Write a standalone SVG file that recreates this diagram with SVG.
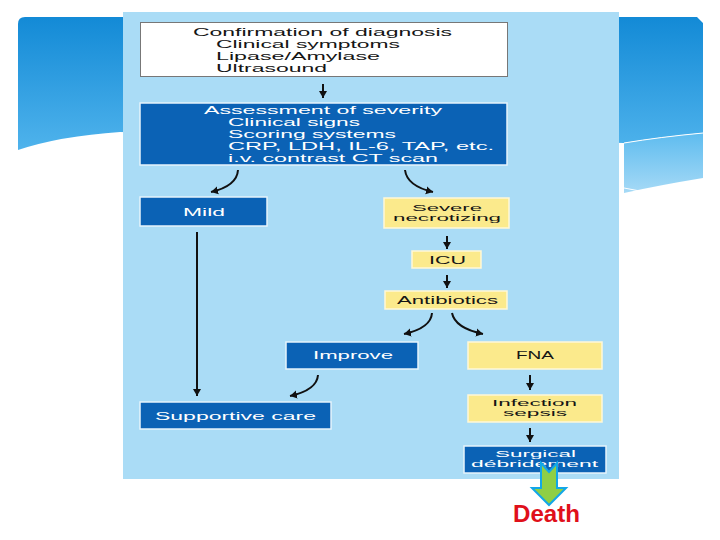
<svg xmlns="http://www.w3.org/2000/svg" width="720" height="540" viewBox="0 0 720 540">
<defs>
<linearGradient id="sky" x1="0" y1="0" x2="0" y2="1">
<stop offset="0" stop-color="#138ad6"/>
<stop offset="1" stop-color="#4fb3ec"/>
</linearGradient>
<linearGradient id="sky2" x1="0" y1="0" x2="0" y2="1">
<stop offset="0" stop-color="#5ebcef"/>
<stop offset="1" stop-color="#a6daf6"/>
</linearGradient>
<marker id="ah" markerUnits="userSpaceOnUse" markerWidth="10" markerHeight="10" refX="7" refY="4.5" orient="auto">
<path d="M0,0.5 L7,4.5 L0,8.5 z" fill="#111"/>
</marker>
<style>
.blue{fill:#0b62b5;stroke:#e6f3fc;stroke-width:1.5}
.yel{fill:#fbea8c;stroke:#fff8d8;stroke-width:1.5}
.wht{fill:#ffffff;stroke:#777;stroke-width:1}
text{font-family:"Liberation Sans",Arial,sans-serif;font-size:10.5px}
.tw{fill:#ffffff}
.tk{fill:#151515}
.big{font-size:11px}
.sm{font-size:9.5px}
.con{fill:none;stroke:#111;stroke-width:2;marker-end:url(#ah)}
</style>
</defs>
<rect width="720" height="540" fill="#ffffff"/>
<g id="background">
<path d="M18,24 Q18,17 25,17 H697 L703,23 V133 Q660,137 624,143 L120,132 Q60,136 18,150 Z" fill="url(#sky)"/>
<path d="M624,143 Q660,137 703,133 V178 Q660,185 624,193 Z" fill="url(#sky2)"/>
<path d="M624,143 Q660,137 703,133" fill="none" stroke="#ffffff" stroke-width="1"/>
<path d="M624,188 Q636,190 648,193" fill="none" stroke="#ffffff" stroke-width="1"/>
<rect x="123" y="12" width="496" height="467" fill="#aadcf6"/>
</g>
<g id="n-confirm">
<rect class="wht" x="140.5" y="22.5" width="367" height="54"/>
<text class="tk big" x="193" y="36" textLength="259" lengthAdjust="spacingAndGlyphs">Confirmation of diagnosis</text>
<text class="tk big" x="216" y="48" textLength="184" lengthAdjust="spacingAndGlyphs">Clinical symptoms</text>
<text class="tk big" x="216" y="60" textLength="164" lengthAdjust="spacingAndGlyphs">Lipase/Amylase</text>
<text class="tk big" x="216" y="72" textLength="111" lengthAdjust="spacingAndGlyphs">Ultrasound</text>
</g>
<g id="n-assess">
<rect class="blue" x="140" y="103" width="367" height="62"/>
<text class="tw big" x="204" y="114" textLength="238" lengthAdjust="spacingAndGlyphs">Assessment of severity</text>
<text class="tw big" x="228" y="126" textLength="132" lengthAdjust="spacingAndGlyphs">Clinical signs</text>
<text class="tw big" x="228" y="138" textLength="168" lengthAdjust="spacingAndGlyphs">Scoring systems</text>
<text class="tw big" x="228" y="150" textLength="266" lengthAdjust="spacingAndGlyphs">CRP, LDH, IL-6, TAP, etc.</text>
<text class="tw big" x="228" y="162" textLength="210" lengthAdjust="spacingAndGlyphs">i.v. contrast CT scan</text>
</g>
<g id="n-mild">
<rect class="blue" x="140" y="197" width="127" height="29"/>
<text class="tw" x="183" y="215.5" textLength="42" lengthAdjust="spacingAndGlyphs">Mild</text>
</g>
<g id="n-severe">
<rect class="yel" x="384" y="198" width="125" height="30"/>
<text class="tk sm" x="412" y="210.5" textLength="70" lengthAdjust="spacingAndGlyphs">Severe</text>
<text class="tk sm" x="393" y="221" textLength="108" lengthAdjust="spacingAndGlyphs">necrotizing</text>
</g>
<g id="n-icu">
<rect class="yel" x="412" y="251" width="69" height="17"/>
<text class="tk" x="429" y="263.5" textLength="37" lengthAdjust="spacingAndGlyphs">ICU</text>
</g>
<g id="n-antibiotics">
<rect class="yel" x="385" y="291" width="122" height="18"/>
<text class="tk" x="397" y="304" textLength="101" lengthAdjust="spacingAndGlyphs">Antibiotics</text>
</g>
<g id="n-improve">
<rect class="blue" x="286" y="342" width="132" height="27"/>
<text class="tw" x="313" y="359" textLength="80" lengthAdjust="spacingAndGlyphs">Improve</text>
</g>
<g id="n-fna">
<rect class="yel" x="468" y="342" width="134" height="27"/>
<text class="tk" x="516" y="359" textLength="38" lengthAdjust="spacingAndGlyphs">FNA</text>
</g>
<g id="n-supportive">
<rect class="blue" x="140" y="402" width="191" height="27"/>
<text class="tw" x="155" y="419.5" textLength="161" lengthAdjust="spacingAndGlyphs">Supportive care</text>
</g>
<g id="n-infection">
<rect class="yel" x="468" y="395" width="134" height="27"/>
<text class="tk sm" x="492" y="406" textLength="85" lengthAdjust="spacingAndGlyphs">Infection</text>
<text class="tk sm" x="503" y="416" textLength="64" lengthAdjust="spacingAndGlyphs">sepsis</text>
</g>
<g id="n-surgical">
<rect class="blue" x="464" y="446" width="142" height="27"/>
<text class="tw sm" x="495" y="457" textLength="81" lengthAdjust="spacingAndGlyphs">Surgical</text>
<text class="tw sm" x="471" y="467" textLength="127" lengthAdjust="spacingAndGlyphs">débridement</text>
</g>
<g id="connectors">
<path class="con" d="M323,84 V98"/>
<path class="con" d="M238,170 Q237,186 211,192"/>
<path class="con" d="M405,170 Q407,186 433,192"/>
<path class="con" d="M197,232 V396"/>
<path class="con" d="M447,236 V249"/>
<path class="con" d="M447,275 V288"/>
<path class="con" d="M432,313 Q431,328 404,334"/>
<path class="con" d="M452,313 Q455,328 483,334"/>
<path class="con" d="M318,375 Q317,390 290,396"/>
<path class="con" d="M530,375 V390"/>
<path class="con" d="M530,428 V442"/>
</g>
<g id="n-death">
<path d="M541,463 L549,472 L557,463 V488 H566 L549,505 L532,488 H541 Z" fill="#8fcf45" stroke="#12a7e8" stroke-width="2" stroke-linejoin="miter"/>
<text x="513" y="522" style="font-family:'Liberation Sans',Arial,sans-serif;font-size:24px;font-weight:bold" fill="#e0101a" textLength="67" lengthAdjust="spacingAndGlyphs">Death</text>
</g>
</svg>
